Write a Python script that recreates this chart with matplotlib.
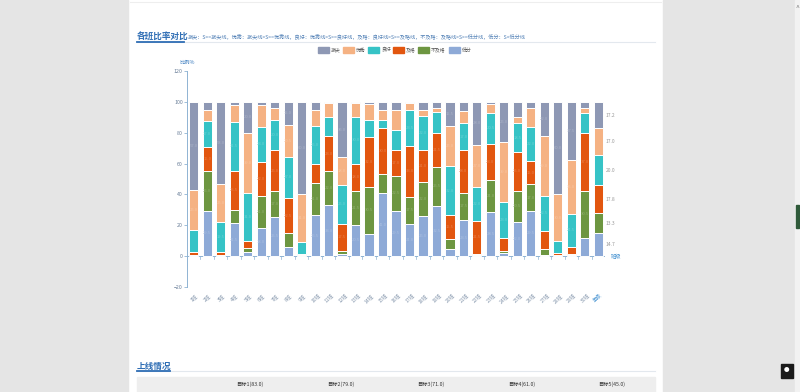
import numpy as np
import matplotlib.pyplot as plt
from matplotlib.patches import Rectangle
import matplotlib.colors as mcolors

plt.rcParams['font.family'] = ['Noto Sans CJK SC', 'DejaVu Sans']

# 各班比率对比 - 每班六个等级的比例 (%)
classes = [f"{i}班" for i in range(1, 31)] + ["年级"]
levels = ["拔尖", "优秀", "良好", "及格", "不及格", "低分"]

low = [0.5, 29.5, 0.5, 21.5, 3, 18, 25.5, 6, 0.5, 26.5, 33, 1.5, 20.5, 14.5, 41, 29.5,
       21, 26, 32.5, 4.5, 23.5, 0.5, 28.5, 2, 22, 29.5, 1, 0.5, 0.5, 12, 14.7]
fail = [0.5, 26, 0.5, 8.5, 2, 21, 17, 9, 0.5, 21, 22, 2, 21.5, 30.5, 12, 22.5,
        17.5, 22, 25.5, 6.5, 17.5, 1, 21, 1.5, 20.5, 17, 3.5, 0.5, 1, 30.5, 13.3]
passed = [1.5, 15, 1.5, 25.5, 5, 22, 26, 22.5, 0.5, 12, 23, 17.5, 18, 32, 30, 17,
          33, 21, 21.5, 15.5, 28, 21.5, 23, 8.5, 25, 15, 12, 1, 4.5, 37, 17.8]
good = [14.5, 17, 19.5, 31.5, 31, 23, 20, 27, 7.5, 25, 12, 25, 30, 11.5, 5.5, 13,
        23.5, 22, 14, 32, 17, 22, 20.5, 23, 18.5, 22, 22.5, 8, 21.5, 13.5, 20]
excellent = [26, 7, 25, 11, 39, 14, 7.5, 20.5, 31, 10, 9, 18, 9, 10, 6, 12.5,
             4, 4, 2.5, 26, 8, 27, 5.5, 39, 4, 12.5, 39, 30, 35, 3, 17]
top = [57, 5.5, 53, 2, 20, 2, 4, 15, 60, 5.5, 1, 36, 1, 1.5, 5.5, 5.5,
       1, 5, 4, 15.5, 6, 28, 1.5, 26, 10, 4, 22, 60, 37.5, 4, 17.2]

colors = ["#8e98b4", "#f5b283", "#36c3c6", "#e2560f", "#6d9641", "#8eaad7"]

W, H = 800, 392
fig = plt.figure(figsize=(8, 3.92), dpi=100)


def fx(x):
    return x / W


def fy(y):
    return 1 - y / H


# 页面背景
fig.patches.append(Rectangle((0, 0), fx(128), 1, transform=fig.transFigure, color="#e5e5e5", zorder=0))
fig.patches.append(Rectangle((fx(663), 0), fx(132), 1, transform=fig.transFigure, color="#e5e5e5", zorder=0))
fig.patches.append(Rectangle((fx(795), 0), fx(5), 1, transform=fig.transFigure, color="#f2f2f2", zorder=0))
fig.patches.append(Rectangle((fx(796), fy(228)), fx(3), 23 / H, transform=fig.transFigure, color="#2f5a3a", zorder=1))
fig.patches.append(Rectangle((fx(781), fy(378)), fx(12), 14 / H, transform=fig.transFigure, color="#1a1a1a", zorder=1))
fig.text(fx(787), fy(371), "●", color="white", fontsize=4, ha="center", va="center")
fig.text(fx(797), fy(8), "^", color="#777777", fontsize=5, ha="center", va="center")
fig.lines.append(plt.Line2D([fx(130), fx(661)], [fy(2), fy(2)], transform=fig.transFigure, color="#eeeeee", lw=0.8))

# 标题
fig.text(fx(137), fy(37), "各班比率对比", color="#2e6db4", fontsize=6.2, fontweight="bold", va="center")
fig.text(fx(188), fy(37), "拔尖：S>=拔尖线，优秀：拔尖线>S>=优秀线，良好：优秀线>S>=良好线，及格：良好线>S>=及格线，"
         "不及格：及格线>S>=低分线，低分：S<低分线", color="#4f7fb5", fontsize=3.7, va="center")
fig.lines.append(plt.Line2D([fx(137), fx(655)], [fy(42), fy(42)], transform=fig.transFigure, color="#e3e8ee", lw=0.8))
fig.lines.append(plt.Line2D([fx(137), fx(184)], [fy(42), fy(42)], transform=fig.transFigure, color="#2e6db4", lw=1.3))

# 图例
lx = 318
for name, c in zip(levels, colors):
    fig.patches.append(Rectangle((fx(lx), fy(53)), fx(11), 6 / H, transform=fig.transFigure, color=c))
    fig.text(fx(lx + 13), fy(50), name, fontsize=3.5, color="#555555", va="center")
    lx += 25 + (6 if len(name) > 2 else 0)

# 柱状图
ax = fig.add_axes([fx(187), fy(287), fx(605 - 187), (287 - 71) / H])
x = np.arange(len(classes))
series = [low, fail, passed, good, excellent, top]
series_colors = colors[::-1]
bottom = np.zeros(len(classes))
for vals, c in zip(series, series_colors):
    vals = np.array(vals)
    ax.bar(x, vals, bottom=bottom, width=0.68, color=c, edgecolor="white", linewidth=0.7, zorder=2)
    light = mcolors.to_rgb(c)
    light = tuple(0.75 * v + 0.25 for v in light)
    for xi, b, v in zip(x[:-1], bottom[:-1], vals[:-1]):
        if v >= 15:
            ax.text(xi, b + v / 2, f"{v:.1f}", fontsize=3.0, color=light, ha="center", va="center", zorder=3)
    bottom += vals

# 年级标签放右侧
b = 0
for v in series:
    ax.text(len(classes) - 1 + 0.55, b + v[-1] / 2, f"{v[-1]:.1f}", fontsize=3.6, color="#9a9a9a", va="center")
    b += v[-1]

ax.set_xlim(-0.5, len(classes) - 0.5)
ax.set_ylim(-20, 120)
ax.set_yticks(range(-20, 121, 20))
ax.tick_params(axis="y", labelsize=3.8, labelcolor="#6a7f99", color="#8fb3d3", length=2, width=0.6, pad=1)
ax.set_xticks(x)
ax.set_xticklabels(classes, rotation=45, fontsize=3.6, color="#8a9bb0")
ax.get_xticklabels()[-1].set_color("#3f8fd0")
ax.tick_params(axis="x", length=0, pad=4)
for xi in np.arange(-0.5, len(classes), 1):
    ax.plot([xi, xi], [0, -1.8], color="#8fb3d3", lw=0.5, zorder=1)
ax.axhline(0, color="#8fb3d3", lw=0.7, zorder=1)
for s in ["top", "right", "bottom"]:
    ax.spines[s].set_visible(False)
ax.spines["left"].set_color("#8fb3d3")
ax.spines["left"].set_linewidth(0.7)
ax.patch.set_alpha(0)
fig.text(fx(180), fy(62), "比例%", fontsize=3.8, color="#3f7fc0", va="center")
fig.text(fx(611), fy(256), "班级", fontsize=3.8, color="#3f8fd0", va="center")

# 上线情况
fig.text(fx(137), fy(366), "上线情况", color="#2e6db4", fontsize=6.2, fontweight="bold", va="center")
fig.lines.append(plt.Line2D([fx(137), fx(655)], [fy(371), fy(371)], transform=fig.transFigure, color="#e3e8ee", lw=0.8))
fig.lines.append(plt.Line2D([fx(137), fx(170)], [fy(371), fy(371)], transform=fig.transFigure, color="#2e6db4", lw=1.3))
fig.patches.append(Rectangle((fx(137), 0), fx(655 - 137), 15 / H, transform=fig.transFigure, color="#eeeeee"))
targets = ["目标1(83.0)", "目标2(79.0)", "目标3(71.0)", "目标4(61.0)", "目标5(45.0)"]
for i, t in enumerate(targets):
    fig.text(fx(250 + 90.5 * i), fy(384), t, fontsize=3.8, color="#333333", ha="center", va="center")

fig.savefig("out.png", dpi=100)
